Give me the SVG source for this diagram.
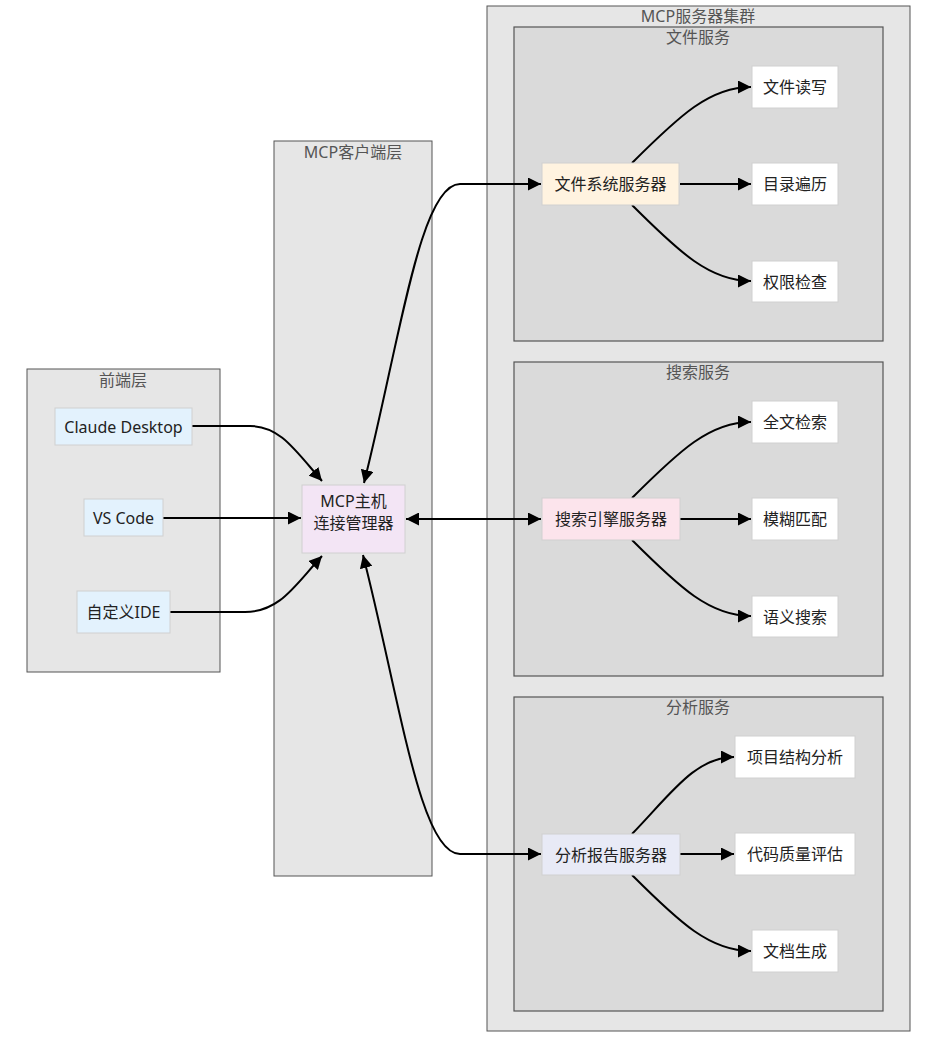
<svg xmlns="http://www.w3.org/2000/svg" width="928" height="1043" viewBox="0 0 928 1043">
<style>
text{font-family:"Noto Sans","Noto Sans CJK SC",sans-serif;font-size:16px;text-anchor:middle;dominant-baseline:central}
.cl{fill:#e6e6e6;stroke:#555;stroke-width:1}
.cl2{fill:#dadada;stroke:#555;stroke-width:1.2}
.ct{fill:#555}
.nd{stroke:#d0d0d0;stroke-width:1}
.nt{fill:#222}
.e{fill:none;stroke:#000;stroke-width:2}
</style>
<defs>
<marker id="ah" viewBox="0 0 10 10" refX="10" refY="5" markerWidth="13" markerHeight="13" markerUnits="userSpaceOnUse" orient="auto-start-reverse"><path d="M0,0L10,5L0,10z" fill="#000"/></marker>
</defs>
<g id="cluster-frontend"><rect class="cl" x="27" y="369" width="193" height="303"/><text class="ct" x="123" y="380">前端层</text></g>
<g id="cluster-client"><rect class="cl" x="274" y="141" width="158" height="735"/><text class="ct" x="353" y="152">MCP客户端层</text></g>
<g id="cluster-servers"><rect class="cl" x="487" y="6" width="423" height="1025"/><text class="ct" x="698" y="16">MCP服务器集群</text></g>
<g id="cluster-file"><rect class="cl2" x="514" y="27" width="369" height="314"/><text class="ct" x="698" y="37">文件服务</text></g>
<g id="cluster-search"><rect class="cl2" x="514" y="362" width="369" height="314"/><text class="ct" x="698" y="372">搜索服务</text></g>
<g id="cluster-analysis"><rect class="cl2" x="514" y="697" width="369" height="314"/><text class="ct" x="698" y="707">分析服务</text></g>

<g id="edges">
<path class="e" marker-end="url(#ah)" d="M192,426 L250,426 C280,426 295,450 322,481"/>
<path class="e" marker-end="url(#ah)" d="M163,518 L301,518"/>
<path class="e" marker-end="url(#ah)" d="M170,612 L245,612 C280,612 295,585 322,556"/>
<path class="e" marker-start="url(#ah)" marker-end="url(#ah)" d="M364,483 C400,340 420,184 460,184 L541,184"/>
<path class="e" marker-start="url(#ah)" marker-end="url(#ah)" d="M406,519 L541,519"/>
<path class="e" marker-start="url(#ah)" marker-end="url(#ah)" d="M363,555 C400,700 420,854 460,854 L541,854"/>
<path class="e" marker-end="url(#ah)" d="M632,163 C680,115 710,87 751,87"/>
<path class="e" marker-end="url(#ah)" d="M680,184 L751,184"/>
<path class="e" marker-end="url(#ah)" d="M632,205 C680,253 710,281 751,281"/>
<path class="e" marker-end="url(#ah)" d="M632,498 C680,450 710,422 751,422"/>
<path class="e" marker-end="url(#ah)" d="M680,519 L751,519"/>
<path class="e" marker-end="url(#ah)" d="M632,540 C680,588 710,616 751,616"/>
<path class="e" marker-end="url(#ah)" d="M632,834 C670,795 695,757 734,757"/>
<path class="e" marker-end="url(#ah)" d="M680,854 L734,854"/>
<path class="e" marker-end="url(#ah)" d="M632,875 C680,923 710,951 751,951"/>
</g>

<g id="n-claude"><rect class="nd" x="55" y="408" width="137" height="37" fill="#e3f2fd"/><text class="nt" x="123.5" y="426.5">Claude Desktop</text></g>
<g id="n-vscode"><rect class="nd" x="84" y="499" width="79" height="37" fill="#e3f2fd"/><text class="nt" x="123.5" y="517.5">VS Code</text></g>
<g id="n-ide"><rect class="nd" x="77" y="591" width="93" height="42" fill="#e3f2fd"/><text class="nt" x="123.5" y="612">自定义IDE</text></g>
<g id="n-host"><rect class="nd" x="302" y="485" width="103" height="68" fill="#f3e5f5"/><text class="nt" x="353.5" y="501">MCP主机</text><text class="nt" x="353.5" y="523">连接管理器</text></g>
<g id="n-fs"><rect class="nd" x="542" y="163" width="137" height="42" fill="#fff3e0"/><text class="nt" x="610.5" y="184">文件系统服务器</text></g>
<g id="n-fs1"><rect class="nd" x="752" y="66" width="86" height="42" fill="#fff"/><text class="nt" x="795" y="87">文件读写</text></g>
<g id="n-fs2"><rect class="nd" x="752" y="163" width="86" height="42" fill="#fff"/><text class="nt" x="795" y="184">目录遍历</text></g>
<g id="n-fs3"><rect class="nd" x="752" y="261" width="86" height="41" fill="#fff"/><text class="nt" x="795" y="281.5">权限检查</text></g>
<g id="n-se"><rect class="nd" x="542" y="498" width="138" height="42" fill="#fce4ec"/><text class="nt" x="611" y="519">搜索引擎服务器</text></g>
<g id="n-se1"><rect class="nd" x="752" y="401" width="86" height="42" fill="#fff"/><text class="nt" x="795" y="422">全文检索</text></g>
<g id="n-se2"><rect class="nd" x="752" y="498" width="86" height="42" fill="#fff"/><text class="nt" x="795" y="519">模糊匹配</text></g>
<g id="n-se3"><rect class="nd" x="752" y="596" width="86" height="41" fill="#fff"/><text class="nt" x="795" y="616.5">语义搜索</text></g>
<g id="n-an"><rect class="nd" x="542" y="834" width="138" height="41" fill="#e8eaf6"/><text class="nt" x="611" y="854.5">分析报告服务器</text></g>
<g id="n-an1"><rect class="nd" x="735" y="736" width="120" height="42" fill="#fff"/><text class="nt" x="795" y="757">项目结构分析</text></g>
<g id="n-an2"><rect class="nd" x="735" y="833" width="120" height="42" fill="#fff"/><text class="nt" x="795" y="854">代码质量评估</text></g>
<g id="n-an3"><rect class="nd" x="752" y="930" width="86" height="42" fill="#fff"/><text class="nt" x="795" y="951">文档生成</text></g>
</svg>
